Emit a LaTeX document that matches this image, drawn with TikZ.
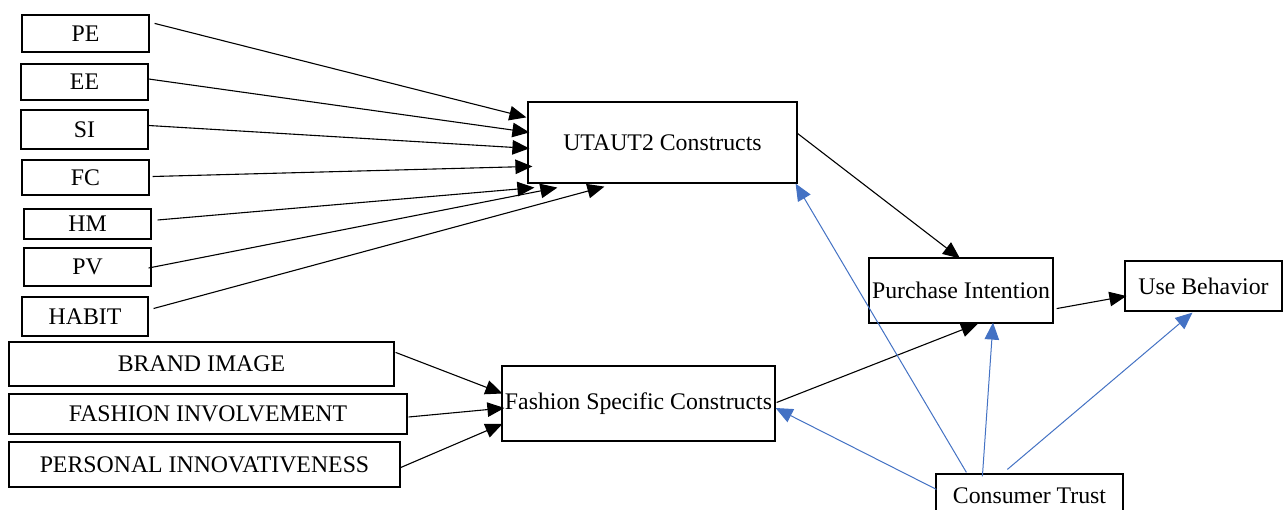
\documentclass[tikz,border=0pt]{standalone}
\usepackage{fontspec}
\setmainfont{Liberation Serif}
\usetikzlibrary{arrows.meta,calc}
\definecolor{trustblue}{HTML}{4472C4}
\begin{document}
\begin{tikzpicture}[x=1pt,y=-1pt,
  box/.style={draw=black,line width=1.2pt,fill=white,inner sep=0pt,
    font=\fontsize{23.8}{28}\selectfont},
  link/.style={draw=black,line width=1.1pt,-{Triangle[length=17pt,width=14.5pt]}},
  trust/.style={draw=trustblue,line width=1pt,-{Triangle[length=17pt,width=14.5pt]}}]
\useasboundingbox[fill=white] (0,0) rectangle (1286,510);
\clip (0,0) rectangle (1286,510);

% UTAUT2 antecedents
\node[box,minimum width=127pt,minimum height=37pt] (pe) at (85.5,33.5) {PE};
\node[box,minimum width=127pt,minimum height=36pt] (ee) at (84.5,82) {EE};
\node[box,minimum width=127pt,minimum height=39pt] (si) at (84.5,129.5) {SI};
\node[box,minimum width=127pt,minimum height=35pt] (fc) at (85.5,177.5) {FC};
\node[box,minimum width=127pt,minimum height=30pt] (hm) at (87.5,224) {HM};
\node[box,minimum width=127pt,minimum height=38pt] (pv) at (87.5,267) {PV};
\node[box,minimum width=126pt,minimum height=39pt] (habit) at (85,316.5) {HABIT};

% fashion antecedents
\node[box,minimum width=385pt,minimum height=44pt] (bi) at (201.5,364) {BRAND IMAGE};
\node[box,minimum width=398pt,minimum height=40pt] (fi) at (208,414) {FASHION INVOLVEMENT};
\node[box,minimum width=391pt,minimum height=45pt] (pin) at (204.5,464.5) {PERSONAL INNOVATIVENESS};

% central constructs
\node[box,minimum width=269pt,minimum height=81pt] (ut) at (662.5,142.5) {UTAUT2 Constructs};
\node[box,minimum width=273pt,minimum height=75pt] (fs) at (638.5,403.5) {Fashion Specific Constructs};
\node[box,minimum width=184pt,minimum height=65pt] (pi) at (961,290.5) {Purchase Intention};
\node[box,minimum width=157pt,minimum height=50pt] (ub) at (1203.5,286) {Use Behavior};
\node[box,minimum width=187pt,minimum height=44pt] (ct) at (1029.5,496) {Consumer Trust};

% arrows into UTAUT2
\draw[link] ($(pe.north east)+(5,9)$) -- ($(ut.north west)+(-1,16)$);
\draw[link] ($(ee.east)+(0,-3)$) -- ($(ut.north west)+(2,31)$);
\draw[link] ($(si.east)+(0,-4)$) -- ($(ut.north west)+(2,47)$);
\draw[link] ($(fc.east)+(3,-1)$) -- ($(ut.north west)+(5,65)$);
\draw[link] ($(hm.east)+(6,-4)$) -- ($(ut.south west)+(7,4)$);
\draw[link] ($(pv.east)+(-3,1)$) -- ($(ut.south west)+(30,4)$);
\draw[link] ($(habit.east)+(5,-8)$) -- ($(ut.south west)+(77,3)$);

% arrows into fashion constructs
\draw[link] ($(bi.north east)+(1,11)$) -- ($(fs.west)+(1,-10)$);
\draw[link] ($(fi.east)+(1,3)$) -- ($(fs.west)+(3,4.5)$);
\draw[link] ($(pin.east)+(-1,3.5)$) -- ($(fs.west)+(1,20.5)$);

% structural paths
\draw[link] ($(ut.east)+(0,-9)$) -- ($(pi.north)+(-1,1)$);
\draw[link] ($(fs.east)+(1,-1)$) -- ($(pi.south)+(17,0)$);
\draw[link] ($(pi.south east)+(3,-15)$) -- ($(ub.west)+(2,10)$);

% consumer trust paths
\draw[trust] ($(ct.north west)+(31,-1)$) -- ($(ut.south east)+(-2,0)$);
\draw[trust] ($(ct.north west)+(47,3)$) -- ($(pi.south)+(32,-1)$);
\draw[trust] ($(ct.north west)+(72,-4)$) -- ($(ub.south)+(-11,1)$);
\draw[trust] ($(ct.north west)+(1,16)$) -- ($(fs.east)+(0,4.5)$);
\end{tikzpicture}
\end{document}
